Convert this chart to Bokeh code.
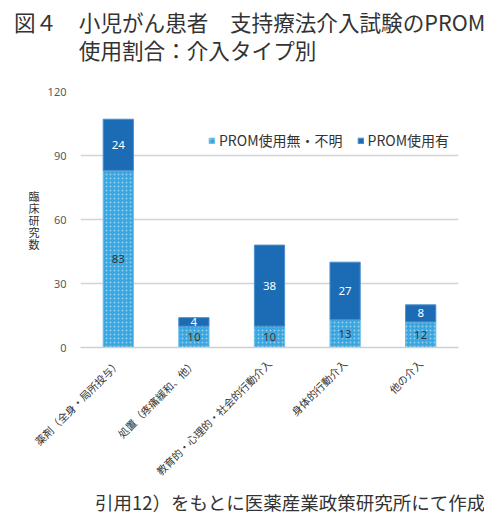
import math
from bokeh.plotting import figure
from bokeh.layouts import column
from bokeh.models import ColumnDataSource, Range1d, FixedTicker, Legend, Title, Div
from bokeh.core.properties import value
from bokeh.embed import file_html
from bokeh.resources import INLINE

# data
categories = ["薬剤（全身・局所投与）", "処置（疼痛緩和、他）", "教育的・心理的・社会的行動介入",
              "身体的行動介入", "他の介入"]
prom_none = [83, 10, 10, 13, 12]   # PROM使用無・不明
prom_used = [24, 4, 38, 27, 8]     # PROM使用有
y_ticks = [0, 30, 60, 90, 120]

series_names = ["PROM使用無・不明", "PROM使用有"]
title_lines = ["図４　小児がん患者　支持療法介入試験のPROM", "　　　使用割合：介入タイプ別"]
LIGHT = "#3aa6df"
DARK = "#1b6cb5"
JP = "Noto Sans CJK JP"

src = ColumnDataSource(data=dict(cat=categories, none=prom_none, used=prom_used))

# title block above the figure (frame top ends up at 80 + 11 = 91px)
head = Div(text='<div style="margin:0;padding:8px 0 0 14px;font-family:\'Noto Sans CJK JP\';'
                'font-size:21.6px;line-height:28px;color:#333333;white-space:nowrap">'
                + "<br>".join(title_lines) + "</div>",
           width=484, height=80, margin=0)

p = figure(x_range=categories, y_range=Range1d(0, 120), width=484, height=434,
           output_backend="svg", toolbar_location=None, title=None, margin=0,
           min_border_left=80, min_border_right=26, min_border_top=11, min_border_bottom=167)
p.outline_line_color = None
p.background_fill_color = "white"

bars = p.vbar_stack(["none", "used"], x="cat", width=0.4, source=src,
                    fill_color=[LIGHT, DARK], line_color=["#6cbde8", "#4d8fcc"], line_width=1,
                    hatch_pattern=["dot", " "], hatch_color="white", hatch_alpha=0.45,
                    hatch_scale=4, hatch_weight=1)

# value labels inside the segments
mid_none = [v / 2 for v in prom_none]
mid_used = [a + b / 2 for a, b in zip(prom_none, prom_used)]
lab_src = ColumnDataSource(data=dict(cat=categories, y1=mid_none, t1=[str(v) for v in prom_none],
                                     y2=mid_used, t2=[str(v) for v in prom_used]))
p.text(x="cat", y="y1", text="t1", source=lab_src, text_align="center", text_baseline="middle",
       text_font=value("Noto Sans"), text_font_size="11.5px", text_color="#333333")
p.text(x="cat", y="y2", text="t2", source=lab_src, text_align="center", text_baseline="middle",
       text_font=value("Noto Sans"), text_font_size="11.5px", text_color="white")

# axes
p.yaxis.ticker = FixedTicker(ticks=y_ticks)
p.yaxis.axis_line_color = None
p.yaxis.major_tick_line_color = None
p.yaxis.minor_tick_line_color = None
p.yaxis.major_label_text_font = "Noto Sans"
p.yaxis.major_label_text_font_size = "11px"
p.yaxis.major_label_text_color = "#595959"
p.yaxis.major_label_standoff = 8
p.yaxis.axis_label = "臨\n床\n研\n究\n数"
p.yaxis.axis_label_orientation = "horizontal"
p.yaxis.axis_label_text_font = JP
p.yaxis.axis_label_text_font_size = "11px"
p.yaxis.axis_label_text_font_style = "normal"
p.yaxis.axis_label_text_color = "#333333"
p.yaxis.axis_label_text_line_height = 0.75
p.yaxis.axis_label_standoff = 5

p.xaxis.axis_line_color = "#cfcfcf"
p.xaxis.axis_line_width = 1.5
p.xaxis.major_tick_line_color = None
p.xaxis.major_label_orientation = math.pi / 4
p.xaxis.major_label_text_font = JP
p.xaxis.major_label_text_font_size = "10.5px"
p.xaxis.major_label_text_color = "#333333"
p.xaxis.major_label_standoff = 8

p.xgrid.grid_line_color = None
p.ygrid.grid_line_color = "#d4d4d4"
p.ygrid.grid_line_width = 1.5

# legend
legend = Legend(items=[(series_names[0], [bars[0]]), (series_names[1], [bars[1]])],
                orientation="horizontal", location=(128, 197),
                glyph_width=7, glyph_height=7, label_standoff=4, spacing=14,
                padding=0, margin=0, border_line_color=None, background_fill_alpha=0,
                label_text_font=JP, label_text_font_size="14px", label_text_color="#333333")
p.add_layout(legend)

# source note
p.add_layout(Title(text="引用12）をもとに医薬産業政策研究所にて作成", align="right", offset=-27,
                   standoff=0, text_font=JP, text_font_size="18.5px", text_font_style="normal",
                   text_color="#333333"), "below")

page = column(head, p, spacing=0)
open("out.html", "w").write(file_html(page, INLINE))
